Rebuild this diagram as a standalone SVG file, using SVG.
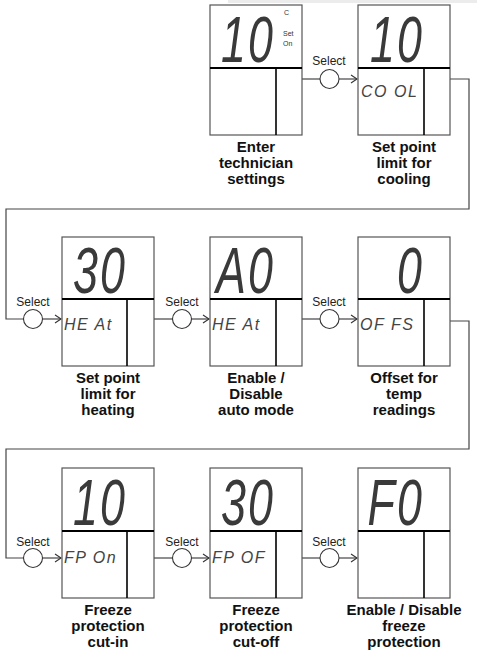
<svg xmlns="http://www.w3.org/2000/svg" width="477" height="667" viewBox="0 0 477 667">
<defs>
<marker id="arr" markerWidth="8" markerHeight="10" refX="7" refY="5" orient="auto" markerUnits="userSpaceOnUse">
<path d="M1,1 L7,5 L1,9" fill="none" stroke="#333" stroke-width="1.1"/>
</marker>
</defs>
<style>
.box{fill:#fff;stroke:#555;stroke-width:1.2}
.div{stroke:#000;stroke-width:2;fill:none}
.vdiv{stroke:#000;stroke-width:1.6;fill:none}
.dig{font-family:"Liberation Sans",Arial,sans-serif;font-style:italic;font-size:64px;fill:#3a3a3a;text-anchor:end;letter-spacing:3px}
.lcd{font-family:"Liberation Sans",Arial,sans-serif;font-style:italic;font-size:16px;fill:#444;letter-spacing:1.5px}
.lbl{font-family:"Liberation Sans",Arial,sans-serif;font-weight:bold;font-size:15px;fill:#111;text-anchor:middle}
.sel{font-family:"Liberation Sans",Arial,sans-serif;font-size:12px;fill:#222;text-anchor:middle}
.tiny{font-family:"Liberation Sans",Arial,sans-serif;font-size:7px;fill:#333}
.con{fill:none;stroke:#444;stroke-width:1.2}
.btn{fill:#fff;stroke:#333;stroke-width:1.1}
</style>
<rect x="228" y="0" width="249" height="3" fill="#ececec"/>

<g id="connectors">
<path class="con" d="M302,79 H320"/>
<circle class="btn" cx="329.5" cy="79" r="9.5"/>
<path class="con" d="M339,79 H357" marker-end="url(#arr)"/>
<text class="sel" x="329" y="65">Select</text>

<path class="con" d="M450,79 H469 V209 H6 V319 H24"/>
<circle class="btn" cx="33" cy="319" r="9.5"/>
<path class="con" d="M42.5,319 H61" marker-end="url(#arr)"/>
<text class="sel" x="33" y="306">Select</text>

<path class="con" d="M154,319 H172.5"/>
<circle class="btn" cx="182" cy="319" r="9.5"/>
<path class="con" d="M191.5,319 H209" marker-end="url(#arr)"/>
<text class="sel" x="182" y="306">Select</text>

<path class="con" d="M302,319 H320"/>
<circle class="btn" cx="329.5" cy="319" r="9.5"/>
<path class="con" d="M339,319 H357" marker-end="url(#arr)"/>
<text class="sel" x="329" y="306">Select</text>

<path class="con" d="M450,321 H469 V449 H6 V558 H24"/>
<circle class="btn" cx="33" cy="558" r="9.5"/>
<path class="con" d="M42.5,558 H61" marker-end="url(#arr)"/>
<text class="sel" x="33" y="546">Select</text>

<path class="con" d="M154,558 H172.5"/>
<circle class="btn" cx="182" cy="558" r="9.5"/>
<path class="con" d="M191.5,558 H209" marker-end="url(#arr)"/>
<text class="sel" x="182" y="546">Select</text>

<path class="con" d="M302,558 H320"/>
<circle class="btn" cx="329.5" cy="558" r="9.5"/>
<path class="con" d="M339,558 H357" marker-end="url(#arr)"/>
<text class="sel" x="329" y="546">Select</text>
</g>

<g id="node-enter-technician">
<rect class="box" x="210" y="5" width="92" height="130"/>
<path class="div" d="M210,68 H302"/>
<path class="vdiv" d="M276,68 V135"/>
<text class="dig" transform="translate(275,62) scale(0.7,1)">10</text>
<text class="tiny" x="284" y="15">C</text>
<text class="tiny" x="283" y="36">Set</text>
<text class="tiny" x="283" y="46">On</text>
<text class="lbl" x="256" y="152">Enter</text>
<text class="lbl" x="256" y="168">technician</text>
<text class="lbl" x="256" y="184">settings</text>
</g>

<g id="node-cool">
<rect class="box" x="358" y="5" width="92" height="130"/>
<path class="div" d="M358,68 H450"/>
<path class="vdiv" d="M424,68 V135"/>
<text class="dig" transform="translate(424,62) scale(0.7,1)">10</text>
<text class="lcd" x="361" y="97">CO OL</text>
<text class="lbl" x="404" y="152">Set point</text>
<text class="lbl" x="404" y="168">limit for</text>
<text class="lbl" x="404" y="184">cooling</text>
</g>

<g id="node-heat">
<rect class="box" x="62" y="237" width="92" height="129"/>
<path class="div" d="M62,299 H154"/>
<path class="vdiv" d="M127,299 V366"/>
<text class="dig" transform="translate(127,293) scale(0.7,1)">30</text>
<text class="lcd" x="64" y="330">HE At</text>
<text class="lbl" x="108" y="383">Set point</text>
<text class="lbl" x="108" y="399">limit for</text>
<text class="lbl" x="108" y="415">heating</text>
</g>

<g id="node-auto">
<rect class="box" x="210" y="237" width="92" height="129"/>
<path class="div" d="M210,299 H302"/>
<path class="vdiv" d="M276,299 V366"/>
<text class="dig" transform="translate(275,293) scale(0.7,1)">A0</text>
<text class="lcd" x="212" y="330">HE At</text>
<text class="lbl" x="256" y="383">Enable /</text>
<text class="lbl" x="256" y="399">Disable</text>
<text class="lbl" x="256" y="415">auto mode</text>
</g>

<g id="node-offset">
<rect class="box" x="358" y="237" width="92" height="129"/>
<path class="div" d="M358,299 H450"/>
<path class="vdiv" d="M424,299 V366"/>
<text class="dig" transform="translate(424,293) scale(0.7,1)">0</text>
<text class="lcd" x="360" y="330">OF FS</text>
<text class="lbl" x="404" y="383">Offset for</text>
<text class="lbl" x="404" y="399">temp</text>
<text class="lbl" x="404" y="415">readings</text>
</g>

<g id="node-fp-on">
<rect class="box" x="62" y="468" width="92" height="130"/>
<path class="div" d="M62,531 H154"/>
<path class="vdiv" d="M127,531 V598"/>
<text class="dig" transform="translate(127,525) scale(0.7,1)">10</text>
<text class="lcd" x="64" y="563">FP On</text>
<text class="lbl" x="108" y="615">Freeze</text>
<text class="lbl" x="108" y="631">protection</text>
<text class="lbl" x="108" y="647">cut-in</text>
</g>

<g id="node-fp-off">
<rect class="box" x="210" y="468" width="92" height="130"/>
<path class="div" d="M210,531 H302"/>
<path class="vdiv" d="M276,531 V598"/>
<text class="dig" transform="translate(275,525) scale(0.7,1)">30</text>
<text class="lcd" x="212" y="563">FP OF</text>
<text class="lbl" x="256" y="615">Freeze</text>
<text class="lbl" x="256" y="631">protection</text>
<text class="lbl" x="256" y="647">cut-off</text>
</g>

<g id="node-freeze-enable">
<rect class="box" x="358" y="468" width="92" height="130"/>
<path class="div" d="M358,531 H450"/>
<path class="vdiv" d="M424,531 V598"/>
<text class="dig" transform="translate(424,525) scale(0.7,1)">F0</text>
<text class="lbl" x="404" y="615">Enable / Disable</text>
<text class="lbl" x="404" y="631">freeze</text>
<text class="lbl" x="404" y="647">protection</text>
</g>
</svg>
